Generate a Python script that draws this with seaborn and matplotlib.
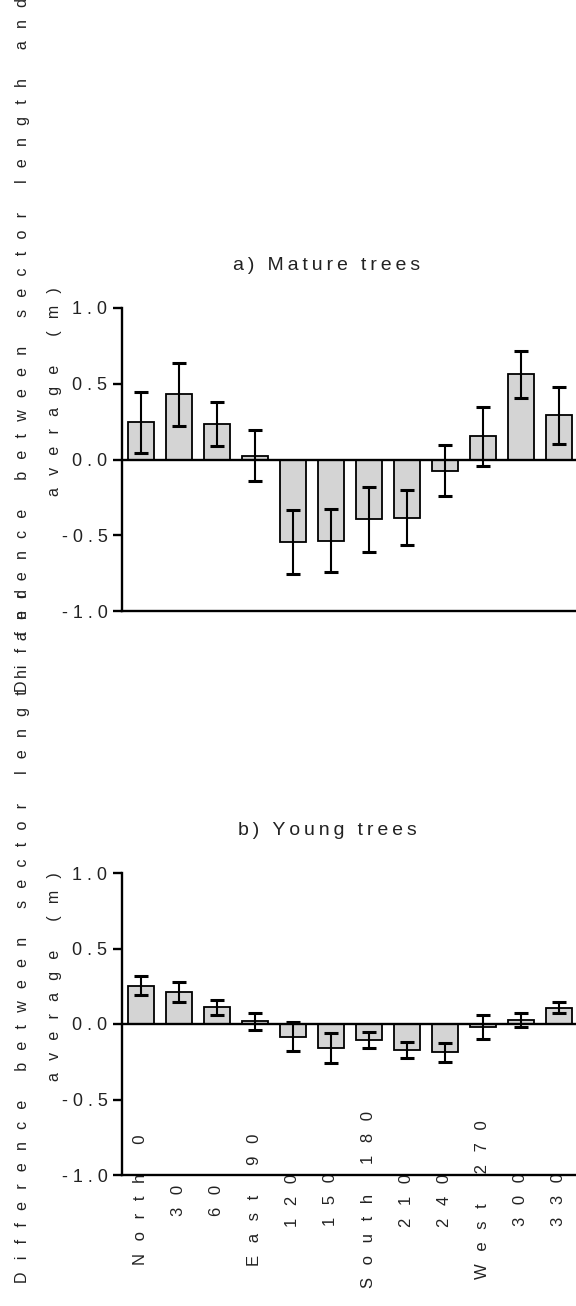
import numpy as np
import pandas as pd
import matplotlib
matplotlib.use("Agg")
import matplotlib.pyplot as plt
import seaborn as sns

# Sector directions (degrees) and the per-sector difference from the tree average
directions = ["North 0", "30", "60", "East 90", "120", "150",
              "South 180", "210", "240", "West 270", "300", "330"]
mature_mean = [0.245, 0.43, 0.233, 0.025, -0.545, -0.535,
               -0.396, -0.384, -0.073, 0.152, 0.562, 0.291]
mature_sem = [0.20, 0.21, 0.147, 0.17, 0.21, 0.207,
              0.215, 0.18, 0.17, 0.196, 0.155, 0.187]
young_mean = [0.254, 0.21, 0.11, 0.017, -0.083, -0.16,
              -0.107, -0.172, -0.188, -0.02, 0.025, 0.109]
young_sem = [0.063, 0.067, 0.049, 0.056, 0.093, 0.098,
             0.054, 0.055, 0.062, 0.08, 0.048, 0.038]
y_ticks = [-1.0, -0.5, 0.0, 0.5, 1.0]
panel_titles = ["a) Mature trees", "b) Young trees"]
y_label_lines = ["Difference between sector length and", "average (m)"]

sns.set_style("white")
FONT = ["Liberation Sans", "DejaVu Sans"]
plt.rcParams["font.family"] = FONT

WIDE_GAP = "  \u2009"   # two spaces plus a thin space
THIN_GAP = "\u2009"


def spaced(text, gap=WIDE_GAP):
    """Letter-spaced version of a label."""
    return gap.join(text)


W, H = 576, 1306
fig = plt.figure(figsize=(W / 100, H / 100), dpi=100)


def px_box(left, top, right, bottom):
    return [left / W, 1 - bottom / H, (right - left) / W, (bottom - top) / H]


ax_top = fig.add_axes(px_box(122, 308, 576, 611))
ax_bot = fig.add_axes(px_box(122, 873, 576, 1175))

panels = [
    (ax_top, mature_mean, mature_sem, panel_titles[0], False),
    (ax_bot, young_mean, young_sem, panel_titles[1], True),
]

for ax, means, sems, title, show_x in panels:
    df = pd.DataFrame({"direction": directions, "diff": means})
    sns.barplot(data=df, x="direction", y="diff", order=directions, ax=ax,
                color="#d4d4d4", saturation=1, edgecolor="black",
                linewidth=1.3, width=0.67, errorbar=None, zorder=2)
    ax.errorbar(np.arange(len(directions)), means, yerr=sems, fmt="none",
                ecolor="black", elinewidth=1.5, capsize=4.7, capthick=2.2,
                zorder=3)
    ax.axhline(0, color="black", lw=1.7, zorder=4, clip_on=False)

    ax.set_xlim(-0.5, 11.45)
    ax.set_ylim(-1.0, 1.0)
    ax.set_xlabel("")
    ax.set_ylabel("")
    sns.despine(ax=ax)
    for side in ("left", "bottom"):
        ax.spines[side].set_linewidth(1.7)
        ax.spines[side].set_color("black")

    ax.set_yticks(y_ticks)
    ax.set_yticklabels([spaced(f"{v:.1f}", " ") for v in y_ticks],
                       fontsize=13, color="#222222")
    ax.tick_params(axis="y", direction="out", length=6.5, width=1.7,
                   color="black", pad=4, left=True)

    ax.set_xticks(np.arange(len(directions)))
    if show_x:
        ax.set_xticklabels([spaced(d) for d in directions], rotation=90,
                           va="center", ha="center", fontsize=12,
                           color="#222222")
        ax.tick_params(axis="x", length=0, pad=18)
    else:
        ax.set_xticklabels([])
        ax.tick_params(axis="x", length=0)

    ax.text(0.4515, 1 + 43 / 303, spaced(title, THIN_GAP),
            transform=ax.transAxes, ha="center", va="center", fontsize=14,
            color="#222222")

# Two-line y labels, one per panel
label_centres = [(345, 392), (936, 977)]
for c1, c2 in label_centres:
    fig.text(23 / W, 1 - c1 / H, spaced(y_label_lines[0]), rotation=90,
             ha="center", va="center", fontsize=11.5, color="#222222")
    fig.text(55 / W, 1 - c2 / H, spaced(y_label_lines[1]), rotation=90,
             ha="center", va="center", fontsize=11.5, color="#222222")

fig.savefig("out.png", dpi=100)
